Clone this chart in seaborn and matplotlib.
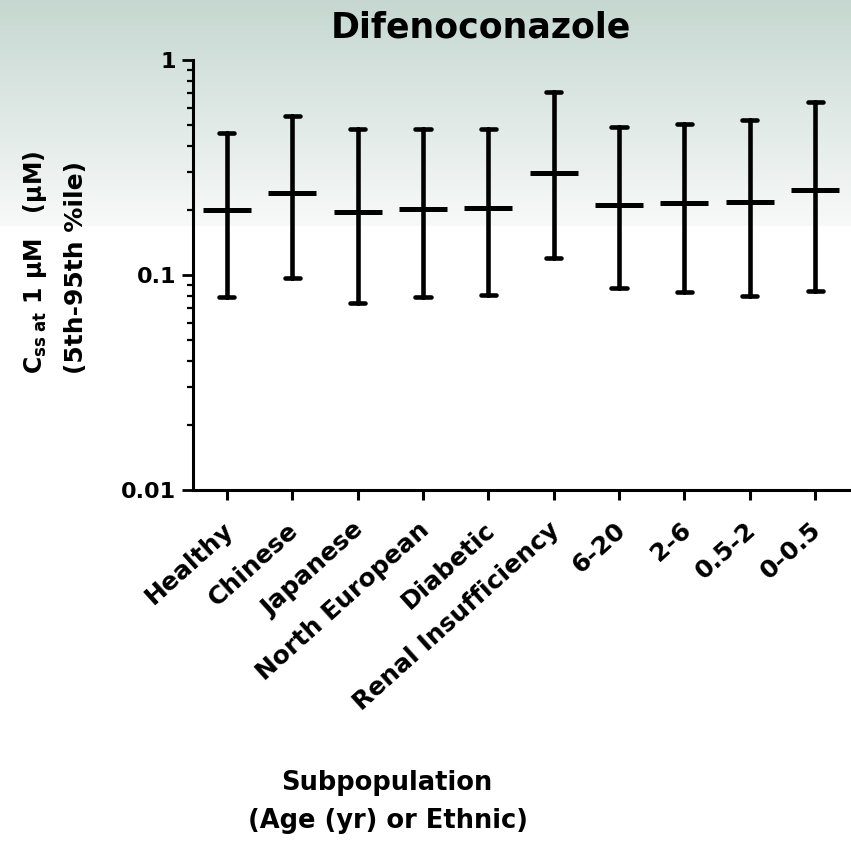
import numpy as np
import pandas as pd
import matplotlib
matplotlib.use("Agg")
import matplotlib.pyplot as plt
from matplotlib.ticker import FixedLocator, LogLocator, NullFormatter
import matplotlib.transforms as mtransforms
import seaborn as sns

# Steady-state concentration percentiles per subpopulation
categories = ["Healthy", "Chinese", "Japanese", "North European", "Diabetic",
              "Renal Insufficiency", "6-20", "2-6", "0.5-2", "0-0.5"]
p5 = [0.079, 0.097, 0.074, 0.079, 0.081, 0.120, 0.087, 0.083, 0.080, 0.084]
median = [0.200, 0.240, 0.196, 0.202, 0.204, 0.299, 0.212, 0.216, 0.218, 0.249]
p95 = [0.459, 0.549, 0.476, 0.480, 0.476, 0.712, 0.486, 0.504, 0.526, 0.640]

ytick_values = [0.01, 0.1, 1]
ytick_labels = ["0.01", "0.1", "1"]

title = "Difenoconazole"
xlabel_lines = ["Subpopulation", "(Age (yr) or Ethnic)"]

sns.set_theme(style="ticks")
plt.rcParams["font.family"] = ["DejaVu Sans"]
plt.rcParams["mathtext.fontset"] = "dejavusans"
plt.rcParams["mathtext.default"] = "bf"
for key in ["text.color", "axes.labelcolor", "xtick.color", "ytick.color",
            "axes.edgecolor"]:
    plt.rcParams[key] = "black"

W, H = 851, 842
fig = plt.figure(figsize=(W / 100, H / 100), dpi=100)
fig.patch.set_facecolor("white")

# soft grey-green band fading to white behind the upper part of the figure
bg = fig.add_axes([0, 0, 1, 1], zorder=-10)
rows = np.arange(H)
t = np.clip(rows / 225.0, 0, 1)
top = np.array([0.775, 0.845, 0.818])
mid = np.array([0.972, 0.978, 0.976])
col = top[None, :] * (1 - t[:, None]) + mid[None, :] * t[:, None]
col[rows > 225] = 1.0
img = np.repeat(col[:, None, :], 4, axis=1)
bg.imshow(img, aspect="auto", extent=[0, 1, 0, 1], origin="upper")
bg.set_axis_off()

ax = fig.add_axes([193 / W, 1 - 490 / H, (849 - 193) / W, (490 - 60) / H])
ax.set_facecolor("none")

# long table: three values per group, so median / full range give 50th and 5th-95th
df = pd.DataFrame({
    "group": np.repeat(categories, 3),
    "value": np.ravel(np.column_stack([p5, median, p95])),
})

sns.pointplot(data=df, x="group", y="value", order=categories,
              estimator="median", errorbar=("pi", 100),
              linestyle="none", marker="_", markersize=34,
              markeredgewidth=3.6, color="black", capsize=0.23,
              err_kws={"linewidth": 3.3}, ax=ax)

ax.set_yscale("log")
ax.set_ylim(0.01, 1)
ax.set_xlim(-0.52, 9.52)
ax.yaxis.set_major_locator(FixedLocator(ytick_values))
ax.set_yticklabels(ytick_labels)
ax.yaxis.set_minor_locator(LogLocator(base=10, subs=np.arange(2, 10)))
ax.yaxis.set_minor_formatter(NullFormatter())

for s in ["top", "right"]:
    ax.spines[s].set_visible(False)
for s in ["left", "bottom"]:
    ax.spines[s].set_linewidth(2.2)
    ax.spines[s].set_color("black")

ax.tick_params(axis="y", which="major", length=8, width=2, labelsize=16,
               pad=4)
ax.tick_params(axis="y", which="minor", length=4, width=1.6)
ax.tick_params(axis="x", which="major", length=7, width=2.2, labelsize=18,
               pad=13)
for lab in ax.get_yticklabels():
    lab.set_fontweight("bold")
ax.set_xticks(range(len(categories)))
ax.set_xticklabels(categories, rotation=42, ha="right", va="top",
                   rotation_mode="anchor", fontweight="bold", fontsize=18)
shift = mtransforms.ScaledTranslation(-5 / 100, 0, fig.dpi_scale_trans)
for lab in ax.get_xticklabels():
    lab.set_transform(lab.get_transform() + shift)
ax.set_xlabel("")
ax.set_ylabel("")

fig.text(481 / W, 1 - 37 / H, title, ha="center", va="baseline",
         fontsize=25, fontweight="bold")

fig.text(35 / W, 1 - 262 / H, r"C$_{ss\ at}$ 1 μM   (μM)",
         rotation=90, ha="center", va="center", fontsize=17, fontweight="bold")
fig.text(76 / W, 1 - 268 / H, "(5th-95th %ile)",
         rotation=90, ha="center", va="center", fontsize=18, fontweight="bold")

fig.text(387 / W, 1 - 783 / H, xlabel_lines[0], ha="center", va="center",
         fontsize=18.5, fontweight="bold")
fig.text(388 / W, 1 - 821 / H, xlabel_lines[1], ha="center", va="center",
         fontsize=18.5, fontweight="bold")

fig.savefig("out.png", dpi=100)
